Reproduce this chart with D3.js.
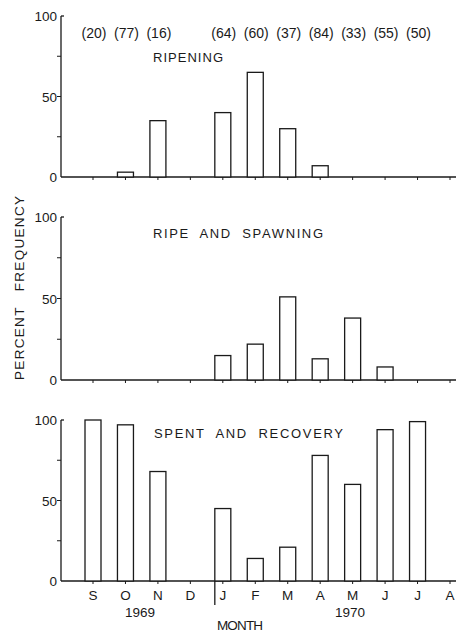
<!DOCTYPE html>
<html><head><meta charset="utf-8">
<script src="https://cdn.jsdelivr.net/npm/d3@7"></script>
<style>body{margin:0;background:#fff}svg{display:block}text{font-family:"Liberation Sans",Arial,sans-serif;fill:#1a1a1a}</style>
</head><body>
<script>
const months = ["S","O","N","D","J","F","M","A","M","J","J","A"];
const sampleSizes = ["(20)","(77)","(16)","","(64)","(60)","(37)","(84)","(33)","(55)","(50)",""];
const ripening = [0,3,35,0,40,65,30,7,0,0,0,0];
const ripeSpawning = [0,0,0,0,15,22,51,13,38,8,0,0];
const spentRecovery = [100,97,68,0,45,14,21,78,60,94,99,0];
const yTicks = [0,25,50,75,100];
const yTickLabels = [0,50,100];
const panelTitles = ["RIPENING","RIPE  AND  SPAWNING","SPENT  AND  RECOVERY"];
const years = [{label:"1969", from:0, to:3},{label:"1970", from:4, to:11}];

const W=458,H=632;
const svg=d3.select("body").append("svg").attr("width",W).attr("height",H);
const ink="#1a1a1a";
const x=d3.scalePoint().domain(d3.range(months.length)).range([93,450]);
const barW=16, axisX=61, axisEnd=456;

const panels=[
 {data:ripening, top:16, bottom:177, title:panelTitles[0], tx:153, ty:62, tw:70},
 {data:ripeSpawning, top:217, bottom:380, title:panelTitles[1], tx:153, ty:238, tw:170},
 {data:spentRecovery, top:420, bottom:581, title:panelTitles[2], tx:154, ty:438, tw:189}
];

panels.forEach((p,pi)=>{
  const y=d3.scaleLinear().domain([0,100]).range([p.bottom,p.top]);
  const g=svg.append("g");
  g.append("line").attr("x1",axisX).attr("x2",axisX).attr("y1",y(100)).attr("y2",y(0)).attr("stroke",ink).attr("stroke-width",1.3);
  g.append("line").attr("x1",axisX).attr("x2",axisX+3).attr("y1",y(100)).attr("y2",y(100)).attr("stroke",ink).attr("stroke-width",1.3);
  yTicks.filter(t=>t>0&&t<100).forEach(t=>{
    g.append("line").attr("x1",axisX-4).attr("x2",axisX).attr("y1",y(t)).attr("y2",y(t)).attr("stroke",ink).attr("stroke-width",1);
  });
  yTickLabels.forEach(t=>{
    g.append("text").attr("x",axisX-4).attr("y",y(t)+5).attr("text-anchor","end").attr("font-size",13.5).text(t);
  });
  g.append("line").attr("x1",axisX).attr("x2",axisEnd).attr("y1",y(0)).attr("y2",y(0)).attr("stroke",ink).attr("stroke-width",1.3);
  months.forEach((m,i)=>{
    g.append("line").attr("x1",x(i)).attr("x2",x(i)).attr("y1",y(0)).attr("y2",y(0)+3).attr("stroke",ink).attr("stroke-width",1);
  });
  g.selectAll("rect").data(p.data.map((v,i)=>({v,i})).filter(d=>d.v>0)).join("rect")
    .attr("x",d=>x(d.i)-barW/2).attr("width",barW)
    .attr("y",d=>y(d.v)).attr("height",d=>y(0)-y(d.v))
    .attr("fill","#fff").attr("stroke",ink).attr("stroke-width",1.3);
  g.append("text").attr("x",p.tx).attr("y",p.ty).attr("font-size",13)
    .attr("textLength",p.tw).attr("lengthAdjust","spacing").style("white-space","pre").text(p.title);
});

sampleSizes.forEach((s,i)=>{
  if(!s) return;
  svg.append("text").attr("x",x(i)+1).attr("y",38).attr("text-anchor","middle").attr("font-size",14).text(s);
});

months.forEach((m,i)=>{
  svg.append("text").attr("x",x(i)).attr("y",600).attr("text-anchor","middle").attr("font-size",13.5).text(m);
});
const sepX=x(4)-8;
svg.append("line").attr("x1",sepX).attr("x2",sepX).attr("y1",581).attr("y2",605).attr("stroke",ink).attr("stroke-width",1.3);
svg.append("text").attr("x",140).attr("y",617).attr("text-anchor","middle").attr("font-size",13.5).text(years[0].label);
svg.append("text").attr("x",350).attr("y",617).attr("text-anchor","middle").attr("font-size",13.5).text(years[1].label);
svg.append("text").attr("x",240).attr("y",630).attr("text-anchor","middle").attr("font-size",13.5)
  .attr("textLength",46).attr("lengthAdjust","spacing").text("MONTH");
svg.append("text").attr("transform","translate(24,288) rotate(-90)").attr("text-anchor","middle").attr("font-size",13.5)
  .attr("textLength",184).attr("lengthAdjust","spacing").style("white-space","pre").text("PERCENT   FREQUENCY");
</script>
</body></html>
